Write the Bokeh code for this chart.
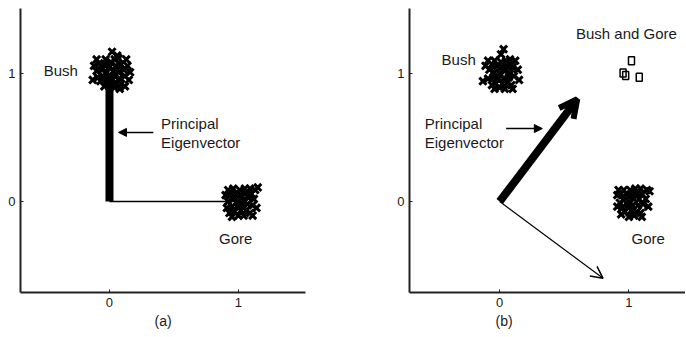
from bokeh.plotting import figure
from bokeh.layouts import row
from bokeh.models import Range1d, FixedTicker, Label, Arrow, OpenHead, NormalHead, Title
from bokeh.embed import file_html
from bokeh.resources import INLINE

# ---- data ----
tick_vals = [0, 1]
tick_labels = {0: "0", 1: "1"}

# cluster centres
bush_center = (0.0, 1.0)
gore_center = (1.0, 0.0)

# point offsets of each cluster
bush_a = [(-0.02, 0.01), (0.03, 0.02), (0.07, 0.01), (-0.06, 0.03), (-0.10, 0.02), (0.11, 0.03),
          (0.00, 0.05), (0.05, 0.06), (-0.04, 0.07), (-0.08, 0.08), (0.09, 0.07), (0.01, 0.09),
          (0.04, 0.11), (-0.03, 0.11), (0.07, 0.12), (0.02, 0.17), (0.06, 0.14),
          (-0.01, -0.03), (0.04, -0.02), (-0.05, -0.02), (0.08, -0.04), (-0.09, -0.03), (0.12, -0.02),
          (0.01, -0.06), (-0.03, -0.07), (0.05, -0.07), (0.09, -0.08), (-0.07, -0.06),
          (0.00, -0.10), (0.04, -0.11), (-0.04, -0.10), (0.08, -0.12), (0.12, -0.10),
          (0.14, 0.06), (0.15, -0.05), (-0.12, 0.06), (-0.13, -0.05), (0.16, 0.01), (0.13, 0.11), (-0.10, 0.11)]
gore_a = [(0.00, 0.00), (0.04, 0.01), (-0.04, 0.02), (0.08, 0.03), (-0.08, 0.00), (0.02, 0.05),
          (-0.02, 0.06), (0.06, 0.07), (-0.06, 0.07), (0.10, 0.06), (0.01, 0.09), (0.05, 0.10),
          (-0.04, 0.10), (0.09, 0.10), (0.13, 0.09), (-0.01, -0.04), (0.03, -0.03), (-0.05, -0.04),
          (0.07, -0.02), (-0.09, -0.05), (0.11, -0.03), (0.02, -0.07), (-0.03, -0.08), (0.06, -0.07),
          (0.09, -0.09), (-0.07, -0.09), (0.00, -0.11), (0.04, -0.11), (-0.05, -0.12), (0.12, 0.02),
          (0.14, -0.05), (-0.10, 0.05), (0.15, 0.11), (-0.08, 0.09), (0.11, -0.11)]
bush_b = [(0.00, 0.00), (0.04, 0.02), (-0.04, 0.01), (0.08, 0.00), (-0.08, 0.03), (0.02, 0.05),
          (-0.02, 0.06), (0.06, 0.06), (-0.06, 0.07), (0.10, 0.05), (0.01, 0.09), (0.05, 0.10),
          (-0.04, 0.10), (0.08, 0.11), (0.01, 0.15), (0.03, 0.19), (-0.01, -0.04), (0.03, -0.04),
          (-0.05, -0.03), (0.07, -0.03), (-0.09, -0.04), (0.11, -0.02), (0.02, -0.08), (-0.03, -0.08),
          (0.06, -0.07), (0.09, -0.09), (-0.06, -0.09), (0.00, -0.11), (0.04, -0.12), (-0.04, -0.12),
          (0.14, 0.03), (0.15, -0.05), (-0.11, 0.06), (-0.13, -0.06), (0.12, 0.10), (-0.09, 0.10),
          (0.10, -0.12)]
gore_b = [(0.00, 0.00), (0.04, 0.02), (-0.04, 0.01), (0.08, 0.02), (-0.07, -0.01), (0.02, 0.05),
          (-0.02, 0.06), (0.06, 0.07), (-0.06, 0.06), (0.10, 0.06), (0.01, 0.09), (0.05, 0.10),
          (-0.04, 0.09), (0.09, 0.10), (0.14, 0.09), (-0.01, -0.04), (0.03, -0.03), (-0.05, -0.05),
          (0.07, -0.03), (-0.09, -0.04), (0.11, -0.02), (0.02, -0.07), (-0.03, -0.08), (0.06, -0.08),
          (0.09, -0.09), (-0.06, -0.10), (0.00, -0.12), (0.04, -0.11), (0.13, 0.02), (0.15, -0.04),
          (-0.09, 0.05), (0.16, 0.08), (-0.08, 0.09), (0.10, -0.12)]

# "Bush and Gore" documents
bg_x = [1.02, 0.955, 0.975, 1.08]
bg_y = [1.10, 1.005, 0.985, 0.97]

# eigenvectors (principal, second)
eig_a = [(0.0, 1.0), (1.0, 0.0)]
eig_b = [(0.6, 0.8), (0.8, -0.6)]

FONT = "Liberation Sans"
TXT = "#1a1a1a"


def make_fig(xr, yr, left, right, fw, caption, cap_offset):
    p = figure(frame_width=fw, frame_height=284,
               x_range=Range1d(*xr), y_range=Range1d(*yr),
               output_backend="svg", toolbar_location=None,
               min_border_left=left, min_border_right=right,
               min_border_top=8, min_border_bottom=0)
    p.grid.visible = False
    p.outline_line_color = None
    for ax in (p.xaxis, p.yaxis):
        ax.ticker = FixedTicker(ticks=tick_vals)
        ax.major_label_overrides = tick_labels
        ax.axis_line_width = 2
        ax.axis_line_color = "#222222"
        ax.major_tick_in = 3
        ax.major_tick_out = 0
        ax.major_tick_line_color = "#222222"
        ax.minor_tick_line_color = None
        ax.major_label_text_font = FONT
        ax.major_label_text_font_size = "13px"
        ax.major_label_text_color = TXT
        ax.major_label_standoff = 5
    p.add_layout(Title(text=caption, align="left", offset=cap_offset, standoff=3,
                       text_font=FONT, text_font_size="14px", text_font_style="normal",
                       text_color=TXT), "below")
    return p


def cluster(p, center, offs):
    xs = [center[0] + d[0] for d in offs]
    ys = [center[1] + d[1] for d in offs]
    p.scatter(xs, ys, marker="x", size=10, line_width=3, color="black")


def label(p, x, y, text, align="left"):
    p.add_layout(Label(x=x, y=y, text=text, text_font=FONT, text_font_size="15px",
                       text_color=TXT, text_align=align, text_baseline="middle"))


# ---- panel (a) ----
pa = make_fig((-0.69, 1.52), (-0.711, 1.508), 20, 41, 285, "(a)", 134)
pa.segment(x0=[0], y0=[0], x1=[eig_a[0][0]], y1=[eig_a[0][1]], line_width=8, color="black")
pa.segment(x0=[0], y0=[0], x1=[eig_a[1][0]], y1=[eig_a[1][1]], line_width=1.5, color="black")
cluster(pa, bush_center, bush_a)
cluster(pa, gore_center, gore_a)
label(pa, -0.51, 1.02, "Bush")
label(pa, 0.85, -0.29, "Gore")
label(pa, 0.40, 0.61, "Principal")
label(pa, 0.40, 0.46, "Eigenvector")
pa.add_layout(Arrow(end=NormalHead(size=8, fill_color="black", line_color="black"),
                    x_start=0.34, y_start=0.54, x_end=0.07, y_end=0.54, line_width=1.5))

# ---- panel (b) ----
pb = make_fig((-0.698, 1.438), (-0.711, 1.508), 63, 0, 276, "(b)", 86)
cluster(pb, bush_center, bush_b)
cluster(pb, gore_center, gore_b)
pb.rect(bg_x, bg_y, width=6, height=8, width_units="screen", height_units="screen",
        fill_color=None, line_color="black", line_width=1.5)
pb.add_layout(Arrow(end=OpenHead(size=18, line_width=6, line_color="black"),
                    x_start=0, y_start=0, x_end=eig_b[0][0], y_end=eig_b[0][1],
                    line_width=8, line_color="black"))
pb.add_layout(Arrow(end=OpenHead(size=12, line_width=1.5, line_color="black"),
                    x_start=0, y_start=0, x_end=eig_b[1][0], y_end=eig_b[1][1],
                    line_width=1.2, line_color="black"))
label(pb, -0.45, 1.11, "Bush")
label(pb, 0.59, 1.31, "Bush and Gore")
label(pb, 1.02, -0.29, "Gore")
label(pb, -0.58, 0.61, "Principal")
label(pb, -0.58, 0.46, "Eigenvector")
pb.add_layout(Arrow(end=NormalHead(size=8, fill_color="black", line_color="black"),
                    x_start=0.05, y_start=0.57, x_end=0.33, y_end=0.57, line_width=1.5))

layout = row(pa, pb)
open("out.html", "w").write(file_html(layout, INLINE))
